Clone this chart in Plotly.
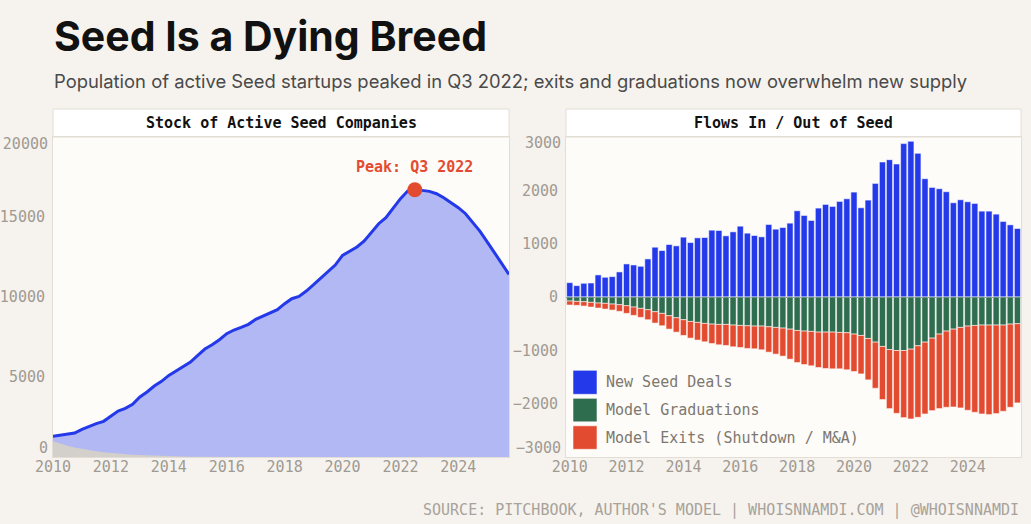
import pandas as pd
import plotly.graph_objects as go

# ---------------- data ----------------
quarters = pd.date_range("2010-01-01", periods=64, freq="QS")

active_stock = [
    1291, 1354, 1437, 1500, 1729, 1916, 2083, 2229, 2562, 2875, 3041, 3291,
    3749, 4062, 4437, 4728, 5103, 5374, 5666, 5937, 6353, 6749, 7020, 7332,
    7707, 7936, 8103, 8290, 8603, 8790, 8999, 9207, 9582, 9894, 10040, 10373,
    10769, 11186, 11581, 11998, 12602, 12873, 13123, 13498, 14081, 14581, 14956, 15539,
    16143, 16623, 16706, 16664, 16602, 16456, 16206, 15894, 15581, 15206, 14644, 14102,
    13435, 12748, 12040, 11415,
]

legacy_stock = [
    980, 830, 700, 590, 500, 420, 355, 300, 250, 210, 175, 145,
    120, 100, 80, 65, 50, 40, 30, 22, 15, 10, 6, 3,
] + [0] * 40

new_deals = [
    269, 213, 257, 263, 414, 370, 382, 470, 620, 601, 576, 714,
    934, 871, 984, 959, 1122, 1021, 1109, 1115, 1253, 1247, 1147, 1222,
    1328, 1197, 1153, 1128, 1360, 1272, 1303, 1385, 1617, 1529, 1435, 1667,
    1736, 1698, 1792, 1842, 1967, 1673, 1817, 2130, 2531, 2575, 2494, 2876,
    2920, 2694, 2218, 2055, 2030, 1974, 1767, 1823, 1786, 1754, 1610, 1610,
    1554, 1416, 1353, 1284,
]

graduations = [
    75, 82, 88, 100, 113, 119, 132, 144, 163, 188, 213, 238,
    276, 307, 351, 389, 426, 458, 476, 495, 508, 514, 514, 526,
    533, 539, 545, 545, 558, 570, 583, 602, 627, 639, 645, 658,
    658, 658, 664, 670, 695, 721, 777, 846, 927, 984, 1003, 1003,
    977, 915, 846, 771, 695, 639, 602, 570, 545, 533, 526, 526,
    526, 526, 508, 501,
]

exits = [
    75, 75, 82, 88, 94, 107, 113, 125, 144, 157, 169, 188,
    213, 232, 251, 270, 295, 313, 332, 345, 364, 382, 395, 408,
    414, 426, 426, 445, 476, 501, 526, 564, 602, 627, 645, 664,
    683, 689, 683, 695, 702, 721, 777, 865, 996, 1109, 1178, 1259,
    1310, 1341, 1347, 1360, 1397, 1429, 1460, 1510, 1579, 1629, 1667, 1679,
    1660, 1617, 1560, 1485,
]

peak_index = 50
peak_label = "Peak: Q3 2022"

series_names = ["New Seed Deals", "Model Graduations", "Model Exits (Shutdown / M&A)"]
panel_titles = ["Stock of Active Seed Companies", "Flows In / Out of Seed"]
left_range = [0, 20000]
left_ticks_inner = [5000, 10000, 15000]
right_range = [-3000, 3000]
right_ticks_inner = [-2000, -1000, 0, 1000, 2000]

# ---------------- style ----------------
BG = "#F6F3EE"
PLOT_BG = "#FDFCF8"
BORDER = "#E3DED5"
BLUE = "#2339EA"
GREEN = "#2E6D4D"
RED = "#E34B30"
GREY = "#D3CFCA"
TICK = "#A09A92"
MONO = "DejaVu Sans Mono"

W, H = 1031, 524
ML, MR, MT, MB = 53, 10, 137, 67
PW = W - ML - MR
PH = H - MT - MB
LEFT_DOM = [0, (509 - ML) / PW]
RIGHT_DOM = [(566 - ML) / PW, 1]
BAND = 28 / PH

fig = go.Figure()

# left panel
fig.add_trace(go.Scatter(
    x=quarters, y=active_stock, mode="lines", fill="tozeroy",
    line=dict(color=BLUE, width=3), fillcolor="rgba(35,57,234,0.35)",
    xaxis="x", yaxis="y", showlegend=False, hoverinfo="skip"))
fig.add_trace(go.Scatter(
    x=quarters, y=legacy_stock, mode="lines", fill="tozeroy",
    line=dict(color="rgba(0,0,0,0)", width=0), fillcolor=GREY,
    xaxis="x", yaxis="y", showlegend=False, hoverinfo="skip"))
fig.add_trace(go.Scatter(
    x=[quarters[peak_index]], y=[active_stock[peak_index]], mode="markers",
    marker=dict(color=RED, size=15), xaxis="x", yaxis="y", showlegend=False))
fig.add_annotation(
    x=quarters[peak_index], y=active_stock[peak_index], xref="x", yref="y",
    text=peak_label, showarrow=False, yshift=23,
    font=dict(family=MONO, size=15, color=RED, weight="bold"))

# right panel
bar_line = dict(color="rgba(255,255,255,0.55)", width=1)
fig.add_trace(go.Bar(
    x=quarters, y=new_deals, name=series_names[0], marker=dict(color=BLUE, line=bar_line),
    xaxis="x2", yaxis="y2", showlegend=False))
fig.add_trace(go.Bar(
    x=quarters, y=[-v for v in graduations], name=series_names[1],
    marker=dict(color=GREEN, line=bar_line), xaxis="x2", yaxis="y2", showlegend=False))
fig.add_trace(go.Bar(
    x=quarters, y=[-v for v in exits], name=series_names[2],
    marker=dict(color=RED, line=bar_line), xaxis="x2", yaxis="y2", showlegend=False))

# empty helper traces so the flush edge-label axes get drawn
for xa, ya in [("x", "y3"), ("x", "y4"), ("x2", "y5"), ("x2", "y6")]:
    fig.add_trace(go.Scatter(x=[], y=[], xaxis=xa, yaxis=ya, showlegend=False,
                             hoverinfo="skip"))

tickfont = dict(family=MONO, size=15, color=TICK)
axis_common = dict(
    showgrid=False, showline=True, mirror=True, linecolor=BORDER, linewidth=1,
    ticks="", tickfont=tickfont, automargin=False,
)
edge_axis = dict(showgrid=False, showline=False, zeroline=False, ticks="",
                 tickfont=tickfont, tickformat="d", ticklabelstandoff=4, automargin=False)

fig.update_layout(
    width=W, height=H,
    margin=dict(l=ML, r=MR, t=MT, b=MB, autoexpand=False),
    paper_bgcolor=BG, plot_bgcolor=PLOT_BG,
    barmode="relative", bargap=0.12,
    xaxis=dict(domain=LEFT_DOM, type="date", range=["2010-01-01", "2025-10-01"],
               dtick="M24", tickformat="%Y", tick0="2010-01-01", ticklabelstandoff=-4,
               **axis_common),
    yaxis=dict(range=left_range, tickvals=left_ticks_inner, tickformat="d", zeroline=False,
               ticklabelstandoff=4, **axis_common),
    # edge labels pulled inside the plot height (flush)
    yaxis3=dict(range=left_range, tickvals=[left_range[0]], overlaying="y", anchor="x",
                side="left", ticklabelshift=-9, **edge_axis),
    yaxis4=dict(range=left_range, tickvals=[left_range[1]], overlaying="y", anchor="x",
                side="left", ticklabelshift=7, **edge_axis),
    xaxis2=dict(domain=RIGHT_DOM, type="date", range=["2009-11-14", "2025-11-16"],
                dtick="M24", tickformat="%Y", tick0="2010-01-01", anchor="y2",
                ticklabelstandoff=-4, **axis_common),
    yaxis2=dict(range=right_range, tickvals=right_ticks_inner, tickformat="d", anchor="x2",
                zeroline=True, zerolinecolor="#2B2B2B", zerolinewidth=1,
                ticklabelstandoff=4, **axis_common),
    yaxis5=dict(range=right_range, tickvals=[right_range[0]], overlaying="y2", anchor="x2",
                side="left", ticklabelshift=-9, **edge_axis),
    yaxis6=dict(range=right_range, tickvals=[right_range[1]], overlaying="y2", anchor="x2",
                side="left", ticklabelshift=6, **edge_axis),
    title=dict(text="Seed Is a Dying Breed", x=54 / W, xanchor="left", xref="container",
               y=1 - 37 / H, yanchor="middle", yref="container",
               font=dict(family="Inter", size=41, color="#111111", weight="bold")),
    showlegend=False,
)

# subtitle & footer
fig.add_annotation(
    text="Population of active Seed startups peaked in Q3 2022; exits and graduations now overwhelm new supply",
    xref="paper", yref="paper", x=(52 - ML) / PW, y=(H - MB - 81) / PH,
    xanchor="left", yanchor="middle", showarrow=False,
    font=dict(family="Inter", size=18.4, color="#4A4A4A"))
fig.add_annotation(
    text="SOURCE: PITCHBOOK, AUTHOR'S MODEL | WHOISNNAMDI.COM | @WHOISNNAMDI",
    xref="paper", yref="paper", x=1, y=(H - MB - 510) / PH,
    xanchor="right", yanchor="middle", showarrow=False,
    font=dict(family=MONO, size=15, color="#A8A29A"))

# panel title bands
for dom, title in zip([LEFT_DOM, RIGHT_DOM], panel_titles):
    fig.add_shape(type="rect", xref="paper", yref="paper", x0=dom[0], x1=dom[1],
                  y0=1, y1=1 + BAND, fillcolor="#FFFFFF", line=dict(color=BORDER, width=1),
                  layer="below")
    fig.add_annotation(text=title, xref="paper", yref="paper", x=(dom[0] + dom[1]) / 2,
                       y=1 + BAND / 2, xanchor="center", yanchor="middle", showarrow=False,
                       font=dict(family=MONO, size=15, color="#111111", weight="bold"))

# custom legend (large swatches)
legend_colors = [BLUE, GREEN, RED]
rows = [(370, 394), (398, 421.5), (425.5, 449)]
for name, col, (ytop, ybot) in zip(series_names, legend_colors, rows):
    fig.add_shape(type="rect", xref="x2 domain", yref="y2 domain",
                  x0=(573 - 566) / 455, x1=(597 - 566) / 455,
                  y0=(456.7 - ybot) / PH, y1=(456.7 - ytop) / PH,
                  fillcolor=col, line=dict(color="rgba(255,255,255,0.55)", width=1))
    fig.add_annotation(text=name, xref="x2 domain", yref="y2 domain",
                       x=(604 - 566) / 455, y=(456.7 - (ytop + ybot) / 2) / PH,
                       xanchor="left", yanchor="middle", showarrow=False,
                       font=dict(family=MONO, size=15, color="#7D776F"))

fig.write_html(
    "out.html",
    config={"displayModeBar": False},
    post_script=(
        "document.body.style.margin='0';"
        "document.body.style.padding='0';"
        f"document.body.style.background='{BG}';"
    ),
)
